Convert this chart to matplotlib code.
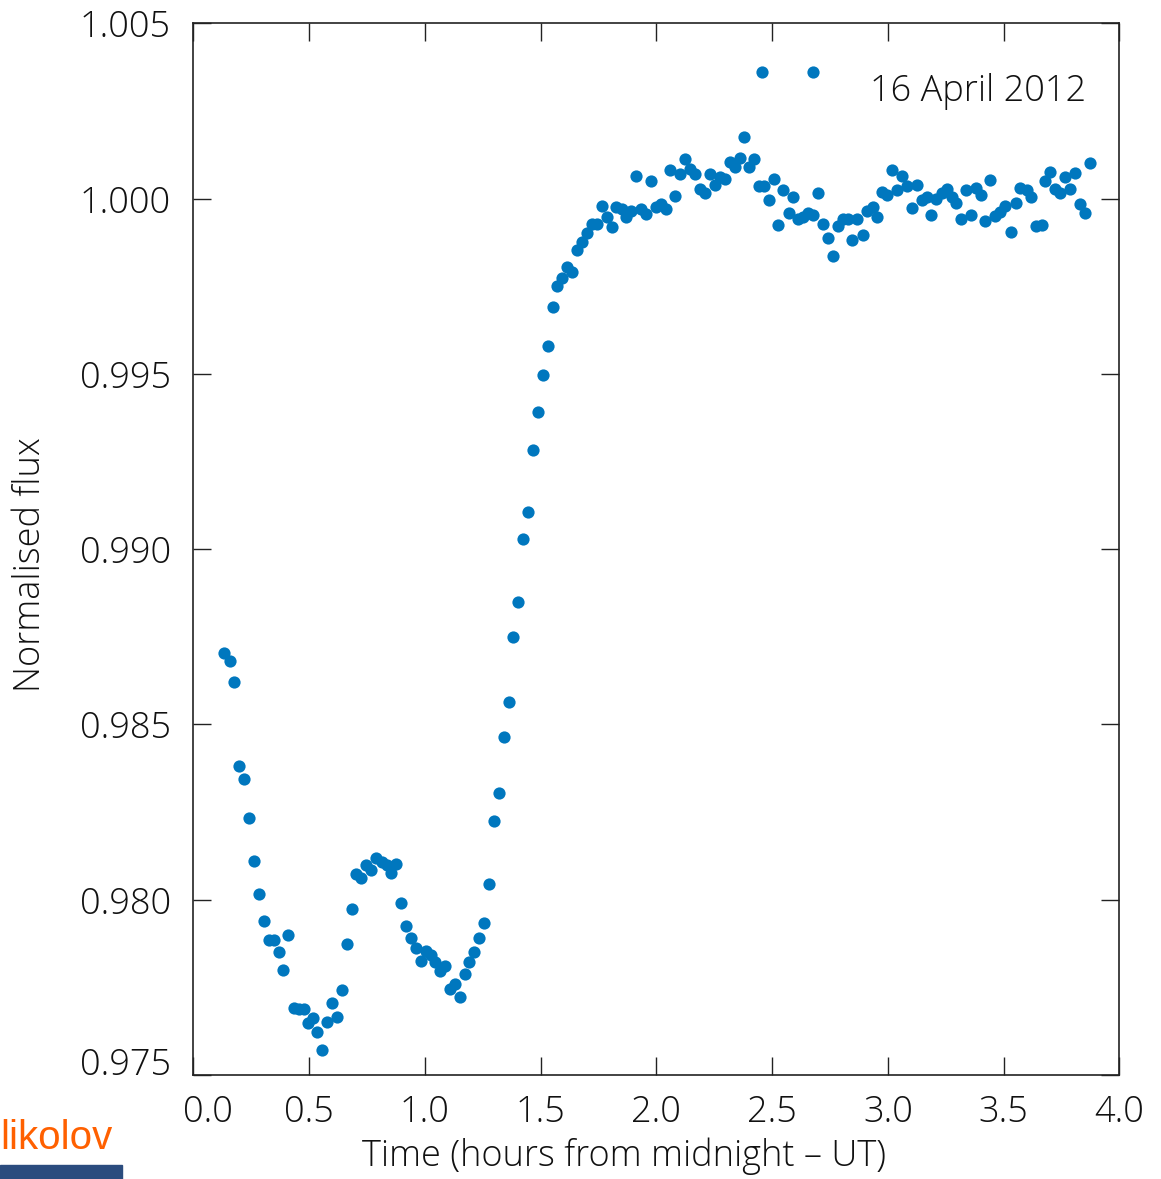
import matplotlib
matplotlib.use("Agg")
import matplotlib.pyplot as plt
import matplotlib.transforms as mtransforms
from matplotlib.patches import Rectangle

# ---------------- data ----------------
time_h = [
    0.134, 0.157, 0.177, 0.199, 0.220, 0.242, 0.264, 0.284, 0.305, 0.327,
    0.349, 0.369, 0.389, 0.409, 0.434, 0.455, 0.477, 0.494, 0.516, 0.536,
    0.557, 0.579, 0.600, 0.621, 0.642, 0.663, 0.684, 0.704, 0.726, 0.746,
    0.768, 0.791, 0.814, 0.835, 0.854, 0.876, 0.897, 0.918, 0.939, 0.961,
    0.982, 1.004, 1.026, 1.045, 1.067, 1.089, 1.109, 1.131, 1.151, 1.172,
    1.192, 1.214, 1.235, 1.256, 1.277, 1.299, 1.319, 1.341, 1.362, 1.382,
    1.404, 1.426, 1.446, 1.467, 1.489, 1.511, 1.531, 1.553, 1.572, 1.594,
    1.616, 1.637, 1.658, 1.679, 1.701, 1.722, 1.744, 1.764, 1.786, 1.807,
    1.828, 1.850, 1.870, 1.892, 1.914, 1.935, 1.956, 1.977, 1.997, 2.019,
    2.041, 2.061, 2.082, 2.104, 2.124, 2.146, 2.167, 2.189, 2.210, 2.231,
    2.252, 2.274, 2.296, 2.317, 2.339, 2.360, 2.380, 2.402, 2.423, 2.444,
    2.465, 2.487, 2.507, 2.527, 2.549, 2.572, 2.592, 2.613, 2.635, 2.657,
    2.678, 2.699, 2.720, 2.742, 2.763, 2.784, 2.805, 2.827, 2.847, 2.868,
    2.893, 2.912, 2.935, 2.953, 2.975, 2.997, 3.018, 3.040, 3.060, 3.082,
    3.103, 3.125, 3.146, 3.168, 3.188, 3.210, 3.233, 3.254, 3.276, 3.295,
    3.315, 3.337, 3.358, 3.380, 3.401, 3.421, 3.443, 3.464, 3.486, 3.508,
    3.532, 3.553, 3.572, 3.600, 3.620, 3.640, 3.665, 3.679, 3.701, 3.722,
    3.744, 3.765, 3.787, 3.809, 3.830, 3.852, 3.873,
]
flux = [
    0.98705, 0.98682, 0.98620, 0.98381, 0.98344, 0.98234, 0.98110, 0.98017, 0.97939, 0.97885,
    0.97885, 0.97850, 0.97800, 0.97899, 0.97692, 0.97689, 0.97687, 0.97648, 0.97664, 0.97622,
    0.97571, 0.97650, 0.97705, 0.97666, 0.97742, 0.97874, 0.97973, 0.98073, 0.98061, 0.98098,
    0.98086, 0.98119, 0.98109, 0.98099, 0.98075, 0.98102, 0.97992, 0.97925, 0.97890, 0.97862,
    0.97826, 0.97855, 0.97842, 0.97822, 0.97798, 0.97811, 0.97745, 0.97760, 0.97723, 0.97787,
    0.97823, 0.97852, 0.97890, 0.97933, 0.98045, 0.98224, 0.98304, 0.98465, 0.98565, 0.98750,
    0.98850, 0.99029, 0.99106, 0.99283, 0.99391, 0.99498, 0.99580, 0.99690, 0.99751, 0.99773,
    0.99805, 0.99790, 0.99854, 0.99877, 0.99903, 0.99927, 0.99928, 0.99979, 0.99947, 0.99919,
    0.99975, 0.99970, 0.99947, 0.99966, 1.00064, 0.99971, 0.99956, 1.00050, 0.99977, 0.99985,
    0.99970, 1.00081, 1.00009, 1.00071, 1.00113, 1.00086, 1.00070, 1.00029, 1.00016, 1.00071,
    1.00039, 1.00063, 1.00055, 1.00104, 1.00090, 1.00117, 1.00177, 1.00091, 1.00113, 1.00037,
    1.00036, 0.99997, 1.00056, 0.99925, 1.00025, 0.99960, 1.00006, 0.99941, 0.99947, 0.99959,
    0.99954, 1.00016, 0.99927, 0.99889, 0.99837, 0.99922, 0.99941, 0.99941, 0.99882, 0.99941,
    0.99897, 0.99965, 0.99976, 0.99947, 1.00018, 1.00011, 1.00082, 1.00025, 1.00066, 1.00036,
    0.99974, 1.00038, 0.99996, 1.00004, 0.99954, 0.99998, 1.00016, 1.00027, 1.00006, 0.99987,
    0.99942, 1.00025, 0.99953, 1.00030, 1.00011, 0.99937, 1.00052, 0.99951, 0.99963, 0.99980,
    0.99904, 0.99989, 1.00032, 1.00025, 1.00004, 0.99922, 0.99925, 1.00051, 1.00075, 1.00027,
    1.00016, 1.00061, 1.00028, 1.00074, 0.99984, 0.99960, 1.00103,
]
x_ticks = [0.0, 0.5, 1.0, 1.5, 2.0, 2.5, 3.0, 3.5, 4.0]
y_ticks = [0.975, 0.980, 0.985, 0.990, 0.995, 1.000, 1.005]
x_tick_labels = ["0.0", "0.5", "1.0", "1.5", "2.0", "2.5", "3.0", "3.5", "4.0"]
y_tick_labels = ["0.975", "0.980", "0.985", "0.990", "0.995", "1.000", "1.005"]
series_label = "16 April 2012"
x_title = "Time (hours from midnight \u2013 UT)"
y_title = "Normalised flux"
watermark = "likolov"

# ---------------- styling ----------------
FONT = ["Open Sans", "DejaVu Sans"]
plt.rcParams["font.family"] = FONT
plt.rcParams["font.weight"] = "light"
POINT_COLOR = "#0077be"
FS = 26

fig = plt.figure(figsize=(11.61, 11.79), dpi=100)
ax = fig.add_axes([0.1665, 0.0882, 0.7976, 0.8919])

ax.plot(time_h, flux, linestyle="none", marker="o", markersize=8.8,
        color=POINT_COLOR, markeredgewidth=0, clip_on=False)

ax.set_xlim(0.0, 4.0)
ax.set_ylim(0.975, 1.005)
ax.set_xticks(x_ticks)
ax.set_xticklabels(x_tick_labels)
ax.set_yticks(y_ticks)
ax.set_yticklabels(y_tick_labels)
ax.tick_params(direction="in", top=True, right=True, length=13, width=1.0,
               labelsize=FS, color="#222222", labelcolor="#111111")
ax.tick_params(axis="x", pad=14)
ax.tick_params(axis="y", pad=16)
for s in ax.spines.values():
    s.set_linewidth(1.2)
    s.set_color("#222222")

# label tweaks as in reference
xl0 = ax.get_xticklabels()[0]
xl0.set_transform(xl0.get_transform() +
                  mtransforms.ScaledTranslation(0.15, 0, fig.dpi_scale_trans))
ax.get_yticklabels()[0].set_va("baseline")

# legend (gnuplot-like: two sample points + title)
ax.plot([0.6141, 0.6692], [0.9542, 0.9542], linestyle="none", marker="o",
        markersize=8.8, color=POINT_COLOR, markeredgewidth=0,
        transform=ax.transAxes)
ax.text(0.7308, 0.9355, series_label, transform=ax.transAxes, fontsize=FS,
        ha="left", va="center", color="#111111")

ax.text(0.4651, -0.077, x_title, transform=ax.transAxes, fontsize=FS,
        ha="center", va="center", color="#111111")
ax.text(-0.1763, 0.485, y_title, transform=ax.transAxes, fontsize=FS,
        ha="center", va="center", rotation=90, color="#111111")

# watermark remnants at bottom-left
fig.text(0.0, 1 - 1138 / 1179, watermark, fontsize=29, color="#ff6000",
         ha="left", va="center", fontweight="normal",
         family=["Liberation Sans", "DejaVu Sans"])
fig.patches.append(Rectangle((0, 0), 122 / 1161, 14 / 1179,
                             transform=fig.transFigure, color="#2b4c7e",
                             zorder=5))

fig.savefig("out.png", dpi=100, facecolor="white")
